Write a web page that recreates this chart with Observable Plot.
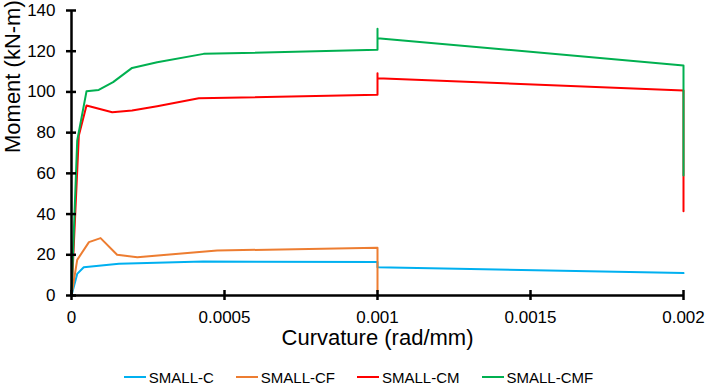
<!DOCTYPE html>
<html>
<head>
<meta charset="utf-8">
<script src="https://cdn.jsdelivr.net/npm/d3@7"></script>
<script src="https://cdn.jsdelivr.net/npm/@observablehq/plot@0.6"></script>
<style>
  html, body { margin: 0; padding: 0; background: #fff; }
  body { width: 707px; height: 387px; overflow: hidden; font-family: "Liberation Sans", Arial, sans-serif; }
  #legend { display: flex; justify-content: center; align-items: center; gap: 22px; height: 20px; margin-top: 7px; padding-left: 10px; font-size: 15px; color: #000; }
  .item { display: flex; align-items: center; }
  .swatch { width: 22px; height: 0; border-top: 2.5px solid; margin-right: 3px; }
</style>
</head>
<body>
<div id="chart"></div>
<script>
const seriesNames = ["SMALL-C", "SMALL-CF", "SMALL-CM", "SMALL-CMF"];
const seriesColors = ["#00B0F0", "#ED7D31", "#FF0000", "#00B050"];

const curvC   = [0, 0.0000186, 0.00004, 0.000155, 0.00043, 0.001, 0.001, 0.002];
const momentC = [0, 10.6, 13.9, 15.6, 16.7, 16.4, 13.9, 11.0];

const curvCF   = [0, 0.0000186, 0.000057, 0.000095, 0.000149, 0.000215, 0.000476, 0.001, 0.001];
const momentCF = [0, 17.5, 26.2, 28.2, 20.0, 18.8, 22.1, 23.4, 2.0];

const curvCM   = [0, 0.000024, 0.000049, 0.000133, 0.000198, 0.00028, 0.000416, 0.001, 0.001, 0.001, 0.002, 0.002];
const momentCM = [0, 78.6, 93.3, 90.0, 90.9, 93.0, 96.9, 98.6, 109.2, 106.7, 100.7, 41.4];

const curvCMF   = [0, 0.0000186, 0.000049, 0.000089, 0.000136, 0.000198, 0.00028, 0.000432, 0.001, 0.001, 0.001, 0.002, 0.002];
const momentCMF = [0, 76.0, 100.3, 101.0, 104.8, 111.8, 114.6, 118.7, 120.7, 131.0, 126.4, 113.0, 58.9];

const xTicks = [0, 0.0005, 0.001, 0.0015, 0.002];
const yTicks = [0, 20, 40, 60, 80, 100, 120, 140];

const xLabel = "Curvature (rad/mm)";
const yLabel = "Moment (kN-m)";

const seriesData = [
  [curvC, momentC], [curvCF, momentCF], [curvCM, momentCM], [curvCMF, momentCMF]
];
const rows = [];
seriesData.forEach(([xs, ys], i) => {
  xs.forEach((x, j) => rows.push({series: seriesNames[i], x, y: ys[j]}));
});

const W = 707, H = 360, ML = 71, MR = 24, MT = 10, MB = 65;
const innerW = W - ML - MR, innerH = H - MT - MB;
const halfTick = 5;

const chart = Plot.plot({
  width: W,
  height: H,
  marginLeft: ML,
  marginRight: MR,
  marginTop: MT,
  marginBottom: MB,
  style: { fontFamily: "Liberation Sans, Arial, sans-serif", fontSize: "17px", color: "#000", background: "#fff" },
  x: { domain: [0, 0.002] },
  y: { domain: [0, 140] },
  color: { domain: seriesNames, range: seriesColors },
  marks: [
    Plot.line(rows, { x: "x", y: "y", z: "series", stroke: "series", strokeWidth: 2, curve: "linear" }),
    Plot.ruleY([0], { stroke: "black", strokeWidth: 2.5 }),
    Plot.ruleX([0], { stroke: "black", strokeWidth: 2.5 }),
    Plot.tickX(xTicks, { x: d => d, stroke: "black", strokeWidth: 2.5, insetTop: innerH - halfTick, insetBottom: -halfTick }),
    Plot.tickY(yTicks, { y: d => d, stroke: "black", strokeWidth: 2.5, insetLeft: -halfTick, insetRight: innerW - halfTick }),
    Plot.axisX({ ticks: xTicks, tickSize: 0, tickPadding: 15, tickFormat: d => String(d), fontSize: 17, label: null }),
    Plot.axisY({ ticks: yTicks, tickSize: 0, tickPadding: 16, tickFormat: d => String(d), fontSize: 17, label: null }),
    Plot.text([xLabel], { frameAnchor: "bottom", dy: 49, text: d => d, fontSize: 22, fill: "black" }),
    Plot.text([yLabel], { frameAnchor: "left", dx: -59, rotate: -90, text: d => d, fontSize: 22, fill: "black" })
  ]
});
document.getElementById("chart").appendChild(chart);

const legend = document.createElement("div");
legend.id = "legend";
seriesNames.forEach((name, i) => {
  const item = document.createElement("div");
  item.className = "item";
  const sw = document.createElement("span");
  sw.className = "swatch";
  sw.style.borderTopColor = seriesColors[i];
  const label = document.createElement("span");
  label.textContent = name;
  item.appendChild(sw);
  item.appendChild(label);
  legend.appendChild(item);
});
document.body.appendChild(legend);
</script>
</body>
</html>
